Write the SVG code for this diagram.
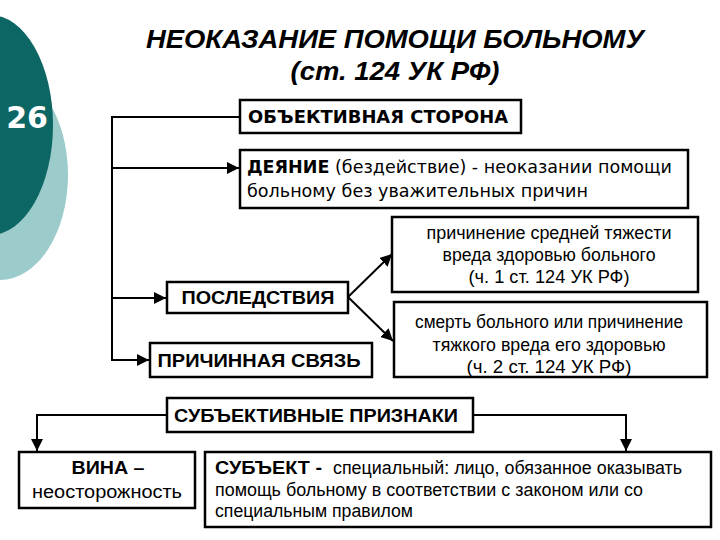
<svg xmlns="http://www.w3.org/2000/svg" width="720" height="540" viewBox="0 0 720 540">
<style>
.box{fill:#fff;stroke:#000;stroke-width:2.5}
.ln{fill:none;stroke:#000;stroke-width:2}
.v{font-family:"DejaVu Sans",Verdana,sans-serif;font-size:18px;fill:#000}
.a{font-family:"Liberation Sans",Arial,sans-serif;font-size:18px;fill:#000}
.b{font-weight:bold}
.c{text-anchor:middle}
</style>
<defs>
<marker id="ah" viewBox="0 0 10 10" refX="10" refY="5" markerWidth="6" markerHeight="6" orient="auto" markerUnits="strokeWidth">
<path d="M0,0 L10,5 L0,10 z" fill="#000"/>
</marker>
</defs>
<rect width="720" height="540" fill="#fff"/>
<g id="decor">
<ellipse cx="0" cy="175" rx="68" ry="105" fill="#9ccbcb"/>
<ellipse cx="-10" cy="125" rx="63" ry="110" fill="#0c6663"/>
<text x="27" y="128" font-family="DejaVu Sans,sans-serif" font-weight="bold" font-size="30" fill="#fff" text-anchor="middle">26</text>
</g>
<g id="title" font-family="Liberation Sans,Arial,sans-serif" font-weight="bold" font-style="italic" font-size="25" text-anchor="middle">
<text x="395" y="48" textLength="498" lengthAdjust="spacingAndGlyphs">НЕОКАЗАНИЕ ПОМОЩИ БОЛЬНОМУ</text>
<text x="395" y="80" textLength="209" lengthAdjust="spacingAndGlyphs">(ст. 124 УК РФ)</text>
</g>
<g id="connectors">
<path class="ln" d="M240,117 H112 V361"/>
<path class="ln" d="M112,168 H239" marker-end="url(#ah)"/>
<path class="ln" d="M112,298 H166" marker-end="url(#ah)"/>
<path class="ln" d="M112,360 H149" marker-end="url(#ah)"/>
<path class="ln" d="M348,297 L392,254" marker-end="url(#ah)"/>
<path class="ln" d="M348,297 L393,341" marker-end="url(#ah)"/>
<path class="ln" d="M167,415 H37 V451" marker-end="url(#ah)"/>
<path class="ln" d="M473,415 H626 V451" marker-end="url(#ah)"/>
</g>
<g id="objective">
<rect class="box" x="240" y="100" width="281" height="33"/>
<text class="v b" x="248" y="123" textLength="260" lengthAdjust="spacingAndGlyphs">ОБЪЕКТИВНАЯ СТОРОНА</text>
</g>
<g id="act">
<rect class="box" x="240" y="150" width="448" height="58"/>
<text class="v" x="247" y="173" textLength="425" lengthAdjust="spacingAndGlyphs"><tspan class="b">ДЕЯНИЕ</tspan> (бездействие) - неоказании помощи</text>
<text class="v" x="247" y="197" textLength="341" lengthAdjust="spacingAndGlyphs">больному без уважительных причин</text>
</g>
<g id="consequences">
<rect class="box" x="167" y="282" width="181" height="31"/>
<text class="a b c" x="258" y="304" textLength="153" lengthAdjust="spacingAndGlyphs">ПОСЛЕДСТВИЯ</text>
</g>
<g id="causal">
<rect class="box" x="150" y="343" width="222" height="34"/>
<text class="a b c" x="259" y="367" textLength="203" lengthAdjust="spacingAndGlyphs">ПРИЧИННАЯ СВЯЗЬ</text>
</g>
<g id="moderate">
<rect class="box" x="392" y="217" width="306" height="75"/>
<text class="a c" x="549" y="239" textLength="245" lengthAdjust="spacingAndGlyphs">причинение средней тяжести</text>
<text class="a c" x="549" y="261" textLength="213" lengthAdjust="spacingAndGlyphs">вреда здоровью больного</text>
<text class="a c" x="549" y="283" textLength="161" lengthAdjust="spacingAndGlyphs">(ч. 1 ст. 124 УК РФ)</text>
</g>
<g id="death">
<rect class="box" x="394" y="302" width="313" height="75"/>
<text class="a c" x="549" y="328" textLength="268" lengthAdjust="spacingAndGlyphs">смерть больного или причинение</text>
<text class="a c" x="549" y="351" textLength="233" lengthAdjust="spacingAndGlyphs">тяжкого вреда его здоровью</text>
<text class="a c" x="549" y="373" textLength="165" lengthAdjust="spacingAndGlyphs">(ч. 2 ст. 124 УК РФ)</text>
</g>
<g id="subjective">
<rect class="box" x="167" y="398" width="306" height="34"/>
<text class="a b c" x="316" y="422" textLength="284" lengthAdjust="spacingAndGlyphs">СУБЪЕКТИВНЫЕ ПРИЗНАКИ</text>
</g>
<g id="guilt">
<rect class="box" x="19" y="452" width="176" height="56"/>
<text class="a b c" x="108" y="474" font-size="20" textLength="73" lengthAdjust="spacingAndGlyphs">ВИНА –</text>
<text class="a c" x="107" y="498" font-size="19" textLength="150" lengthAdjust="spacingAndGlyphs">неосторожность</text>
</g>
<g id="subject">
<rect class="box" x="205" y="452" width="506" height="75"/>
<text class="a b" x="215" y="474" font-size="19" textLength="107" lengthAdjust="spacingAndGlyphs">СУБЪЕКТ -</text>
<text class="a" x="333" y="474" textLength="349" lengthAdjust="spacingAndGlyphs">специальный: лицо, обязанное оказывать</text>
<text class="a" x="215" y="496" textLength="428" lengthAdjust="spacingAndGlyphs">помощь больному в соответствии с законом или со</text>
<text class="a" x="215" y="517" textLength="198" lengthAdjust="spacingAndGlyphs">специальным правилом</text>
</g>
</svg>
